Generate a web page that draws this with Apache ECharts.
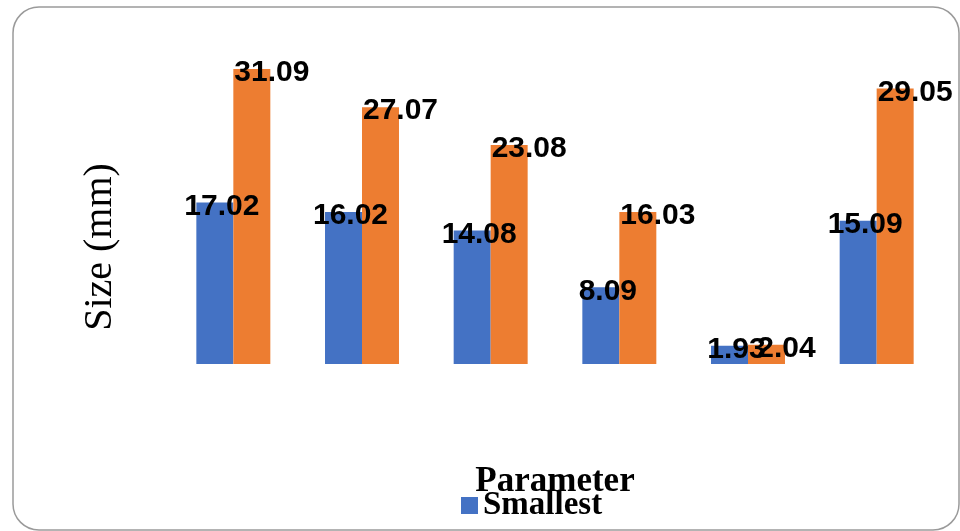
<!DOCTYPE html>
<html>
<head>
<meta charset="utf-8">
<script src="https://cdn.jsdelivr.net/npm/echarts@6/dist/echarts.min.js"></script>
<style>
  html, body { margin: 0; padding: 0; background: #fff; }
  #main { width: 960px; height: 531px; }
</style>
</head>
<body>
<div id="main"></div>
<script>
// data
var categories = ['1', '2', '3', '4', '5', '6'];
var smallest = [17.02, 16.02, 14.08, 8.09, 1.93, 15.09];
var largest = [31.09, 27.07, 23.08, 16.03, 2.04, 29.05];

var chart = echarts.init(document.getElementById('main'), null, { renderer: 'canvas' });

var labelStyle = {
  show: true,
  position: 'top',
  distance: -19,
  color: '#000',
  fontFamily: 'Liberation Sans, Arial, sans-serif',
  fontWeight: 'bold',
  fontSize: 30
};

var option = {
  backgroundColor: '#fff',
  animation: false,
  graphic: [{
    type: 'rect',
    shape: { x: 13, y: 7, width: 946, height: 523, r: 26 },
    style: { fill: 'none', stroke: '#9a9a9a', lineWidth: 1.5 },
    z: -1
  }, {
    type: 'text',
    x: 100, y: 247,
    rotation: Math.PI / 2,
    style: {
      text: 'Size (mm)',
      fill: '#000',
      font: '40px "Liberation Serif", "Times New Roman", serif',
      align: 'center',
      verticalAlign: 'middle'
    }
  }],
  legend: {
    data: ['Smallest'],
    left: 456,
    top: 484,
    itemWidth: 17,
    itemHeight: 17,
    itemGap: 8,
    icon: 'rect',
    textStyle: {
      color: '#000',
      fontFamily: 'Liberation Serif, Times New Roman, serif',
      fontWeight: 'bold',
      fontSize: 33
    }
  },
  grid: { left: 169, right: 19, top: 32, bottom: 167 },
  xAxis: {
    type: 'category',
    data: categories,
    name: 'Parameter',
    nameLocation: 'middle',
    nameGap: 100,
    nameTextStyle: {
      color: '#000',
      fontFamily: 'Liberation Serif, Times New Roman, serif',
      fontWeight: 'bold',
      fontSize: 35
    },
    axisLine: { show: false },
    axisTick: { show: false },
    axisLabel: { show: false }
  },
  yAxis: {
    type: 'value',
    min: 0,
    max: 35,
    show: false
  },
  series: [{
    name: 'Smallest',
    type: 'bar',
    data: smallest,
    barGap: '0%',
    barCategoryGap: '42.5%',
    itemStyle: { color: '#4472C4' },
    label: Object.assign({}, labelStyle, { offset: [7, 0] })
  }, {
    name: 'Largest',
    type: 'bar',
    data: largest,
    barGap: '0%',
    barCategoryGap: '42.5%',
    itemStyle: { color: '#ED7D31' },
    label: Object.assign({}, labelStyle, { offset: [20, 0] })
  }]
};

chart.setOption(option);
</script>
</body>
</html>
